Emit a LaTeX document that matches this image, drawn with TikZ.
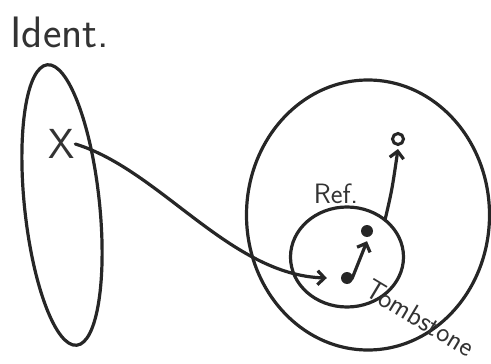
\documentclass[tikz,border=0pt]{standalone}
\usepackage{fontspec}
\usepackage{tikz}
\usetikzlibrary{arrows.meta, shapes.geometric}
\tikzset{
    >={Straight Barb[length=7pt, width=14pt]},
    pen/.style={line width=3.2pt, line cap=round, draw=black!85},
    set/.style={pen, ellipse, inner sep=0pt},
    blob/.style={circle, fill=black!85, inner sep=0pt, minimum size=12pt},
    hole/.style={circle, draw=black!85, line width=3pt, fill=white, inner sep=0pt, minimum size=11pt},
    hand/.style={text=black!80, font=\sffamily\fontsize{#1}{#1}\selectfont, inner sep=0pt},
    hand/.default=44
}

\begin{document}
\begin{tikzpicture}[x=1pt, y=-1pt]

    \useasboundingbox (0,0) rectangle (491,364);

    % identifiers
    \node[hand] (identlabel) at (60,32) {Ident.};
    \node[set, minimum width=75pt, minimum height=282pt, rotate=6] (identset) at (62,205) {};
    \node[hand=42] (xval) at (62,144) {X};

    % store
    \node[set, minimum width=243pt, minimum height=270pt] (store) at (368,215) {};
    \node[set, minimum width=113pt, minimum height=100pt] (refset) at (347,257) {};
    \node[hand=28] (reflabel) at (336,194) {Ref.};
    \node[hand=28, rotate=-31] (tomblabel) at (420,318) {Tombstone};

    \node[blob] (tombdot) at (347,278) {};
    \node[blob] (refdot) at (367,231) {};
    \node[hole] (ring) at (398,139) {};
    \coordinate (reftop) at (385,220);

    % pointers
    \draw[pen, ->] (xval.east) .. controls (160,170) and (230,275) .. ([xshift=-14pt]tombdot.west);
    \draw[pen, ->] ([shift={(5pt,-7pt)}]tombdot.north) -- ([yshift=-4pt]refdot.south);
    \draw[pen, ->] (reftop) .. controls (392,190) .. ([yshift=-3pt]ring.south);

\end{tikzpicture}
\end{document}
